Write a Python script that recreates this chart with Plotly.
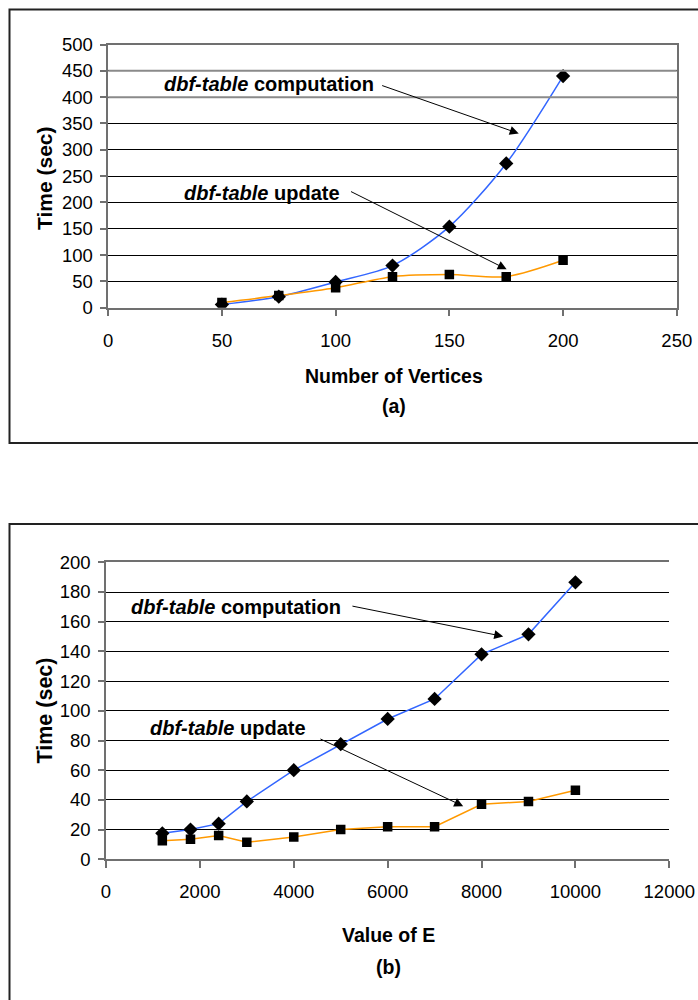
import plotly.graph_objects as go

# ---------------- data ----------------
vertices = [50, 75, 100, 125, 150, 175, 200]
comp_a = [6, 21, 49, 80, 154, 274, 440]
update_a = [10, 23, 38, 59, 63, 59, 90]

e_values = [1200, 1800, 2400, 3000, 4000, 5000, 6000, 7000, 8000, 9000, 10000]
comp_b = [17.5, 20, 24, 39, 60, 77.5, 94.5, 108, 138, 151.5, 186.5]
update_b = [12.5, 13.5, 16, 11.5, 15, 20, 22, 22, 37, 39, 46.5]

xticks_a = [0, 50, 100, 150, 200, 250]
yticks_a = list(range(0, 501, 50))
xticks_b = [0, 2000, 4000, 6000, 8000, 10000, 12000]
yticks_b = list(range(0, 201, 20))

W, H = 698, 1000
FONT = "Liberation Sans, Arial, sans-serif"
BLUE = "#3366FF"
ORANGE = "#FF9900"


def X(px):
    return px / W


def Y(py):
    return 1 - py / H


fig = go.Figure()

# lines first
fig.add_trace(go.Scatter(x=vertices, y=comp_a, mode="lines", xaxis="x", yaxis="y",
                         line=dict(color=BLUE, width=1.5, shape="spline", smoothing=0.8),
                         showlegend=False, hoverinfo="skip"))
fig.add_trace(go.Scatter(x=vertices, y=update_a, mode="lines", xaxis="x", yaxis="y",
                         line=dict(color=ORANGE, width=1.5, shape="spline", smoothing=0.8),
                         showlegend=False, hoverinfo="skip"))
fig.add_trace(go.Scatter(x=e_values, y=comp_b, mode="lines", xaxis="x2", yaxis="y2",
                         line=dict(color=BLUE, width=1.5),
                         showlegend=False, hoverinfo="skip"))
fig.add_trace(go.Scatter(x=e_values, y=update_b, mode="lines", xaxis="x2", yaxis="y2",
                         line=dict(color=ORANGE, width=1.5),
                         showlegend=False, hoverinfo="skip"))
# markers
for xs, ys, ax in [(vertices, comp_a, ("x", "y")), (e_values, comp_b, ("x2", "y2"))]:
    fig.add_trace(go.Scatter(x=xs, y=ys, mode="markers", xaxis=ax[0], yaxis=ax[1],
                             marker=dict(symbol="diamond", size=11, color="black"),
                             showlegend=False))
for xs, ys, ax in [(vertices, update_a, ("x", "y")), (e_values, update_b, ("x2", "y2"))]:
    fig.add_trace(go.Scatter(x=xs, y=ys, mode="markers", xaxis=ax[0], yaxis=ax[1],
                             marker=dict(symbol="square", size=9.5, color="black"),
                             showlegend=False))

axis_common = dict(
    showline=True, linecolor="#707070", linewidth=1.5,
    ticks="outside", tickcolor="#707070", tickwidth=1.5,
    tickfont=dict(family=FONT, size=18.5, color="black"),
    zeroline=False, fixedrange=True, automargin=False,
)

fig.update_layout(
    width=W, height=H,
    margin=dict(l=0, r=0, t=0, b=0),
    paper_bgcolor="white", plot_bgcolor="white",
    showlegend=False,
    xaxis=dict(domain=[X(108.2), X(676.8)], range=[0, 250], tickvals=xticks_a,
               ticktext=[str(v) for v in xticks_a], ticklabelstandoff=8,
               showgrid=False, mirror=True, ticklen=7, anchor="y", **axis_common),
    yaxis=dict(domain=[Y(307.7), Y(44.5)], range=[0, 500], tickvals=yticks_a,
               ticktext=[str(v) for v in yticks_a], ticklabelstandoff=4,
               showgrid=True, gridcolor="black", gridwidth=1, mirror=True,
               ticklen=6, anchor="x", **axis_common),
    xaxis2=dict(domain=[X(106), X(669.3)], range=[0, 12000], tickvals=xticks_b,
                ticktext=[str(v) for v in xticks_b], ticklabelstandoff=8,
                showgrid=False, mirror=True, ticklen=7, anchor="y2", **axis_common),
    yaxis2=dict(domain=[Y(859.3), Y(562.3)], range=[0, 200], tickvals=yticks_b,
                ticktext=[str(v) for v in yticks_b], ticklabelstandoff=4,
                showgrid=True, gridcolor="black", gridwidth=1, mirror=False,
                ticklen=6, anchor="x2", **axis_common),
)

shapes = []
# outer panel borders
shapes.append(dict(type="rect", xref="paper", yref="paper",
                   x0=X(9.5), x1=X(760), y0=Y(443), y1=Y(9.5),
                   line=dict(color="#222222", width=2), fillcolor="rgba(0,0,0,0)"))
shapes.append(dict(type="rect", xref="paper", yref="paper",
                   x0=X(9.5), x1=X(760), y0=Y(1060), y1=Y(524),
                   line=dict(color="#222222", width=2), fillcolor="rgba(0,0,0,0)"))
# lighter upper gridlines in panel (a)
for gy in [400, 450]:
    shapes.append(dict(type="line", xref="x domain", yref="y", x0=0, x1=1, y0=gy, y1=gy,
                       line=dict(color="#8a8a8a", width=2), layer="above"))
fig.update_layout(shapes=shapes)

ann = []
title_font = dict(family=FONT, size=19.5, color="black")
label_font = dict(family=FONT, size=20, color="black")


def txt(text, px, py, font, angle=0):
    ann.append(dict(text=text, xref="paper", yref="paper", x=X(px), y=Y(py),
                    xanchor="center", yanchor="middle", showarrow=False,
                    font=font, textangle=angle))


# panel (a) texts
txt("<b>Time (sec)</b>", 45, 178, dict(family=FONT, size=21, color="black"), -90)
txt("<b>Number of Vertices</b>", 394, 376, title_font)
txt("<b>(a)</b>", 394, 406, title_font)
txt("<b><i>dbf-table</i> computation</b>", 269.3, 84, label_font)
txt("<b><i>dbf-table</i> update</b>", 261.6, 193, label_font)
# panel (b) texts
txt("<b>Time (sec)</b>", 44.5, 711, dict(family=FONT, size=21.5, color="black"), -90)
txt("<b>Value of E</b>", 388, 935, title_font)
txt("<b>(b)</b>", 388.5, 967, title_font)
txt("<b><i>dbf-table</i> computation</b>", 236.4, 607, label_font)
txt("<b><i>dbf-table</i> update</b>", 227.5, 728, label_font)

# arrows (data coordinates)
arrows = [
    ("x", "y", 119.8, 423, 180.5, 331),
    ("x", "y", 106.1, 222, 175.2, 73),
    ("x2", "y2", 5218, 170.7, 8462, 150.1),
    ("x2", "y2", 4536, 81.5, 7609, 35.8),
]
for xr, yr, tx, ty, hx, hy in arrows:
    ann.append(dict(text="", xref=xr, yref=yr, axref=xr, ayref=yr,
                    x=hx, y=hy, ax=tx, ay=ty, showarrow=True,
                    arrowhead=2, arrowsize=1.8, arrowwidth=1, arrowcolor="black"))

fig.update_layout(annotations=ann)

fig.write_html("out.html")
